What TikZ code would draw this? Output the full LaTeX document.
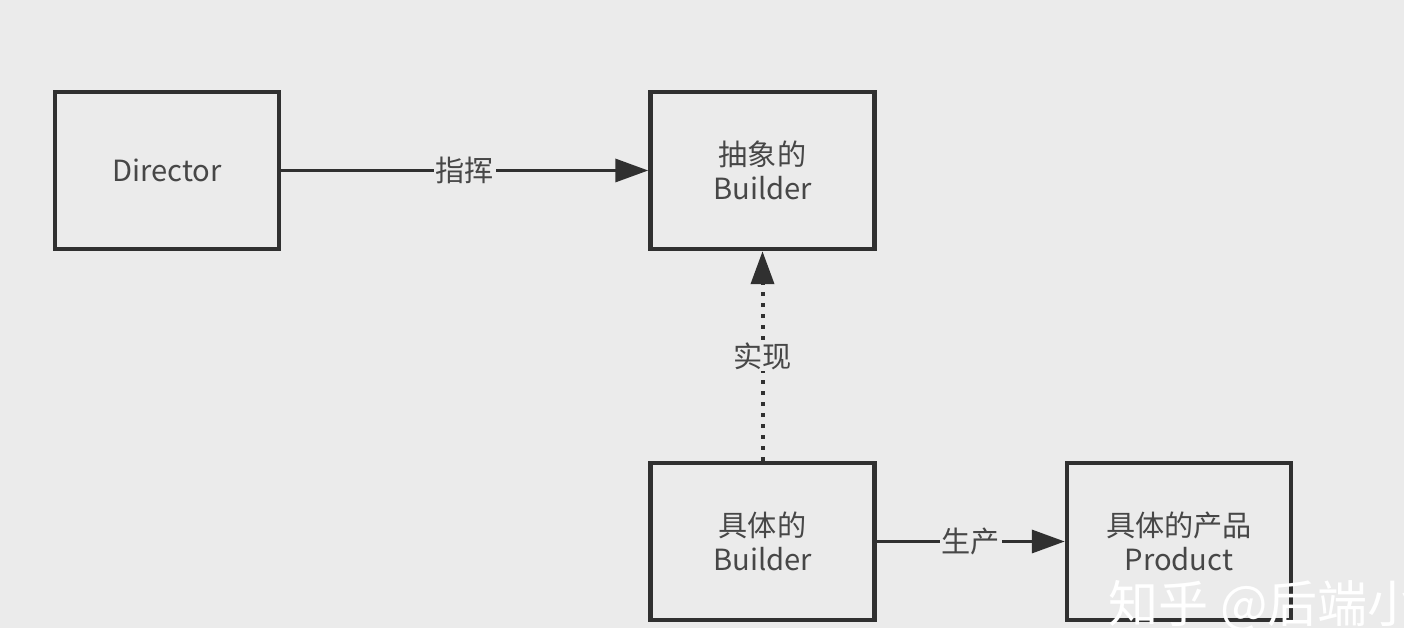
\documentclass[tikz,border=0pt]{standalone}
\usepackage{fontspec}
\setmainfont{Noto Sans CJK SC}
\usepackage{xcolor}
\usetikzlibrary{arrows.meta}
\definecolor{bggray}{HTML}{EBEBEB}
\definecolor{linegray}{HTML}{303030}
\definecolor{textgray}{HTML}{474747}

\begin{document}
\begin{tikzpicture}[
  box/.style={draw=linegray,line width=0.09cm,minimum width=4.48cm,minimum height=3.14cm,align=center,text=textgray,font=\fontsize{16.6}{19}\selectfont},
  pfeil/.style={draw=linegray,line width=0.07cm,-{Triangle[length=0.66cm,width=0.46cm]}},
  beschr/.style={fill=bggray,inner sep=1pt,text=textgray,font=\fontsize{16.6}{19}\selectfont}
]

\fill[bggray] (0,0) rectangle (28.08,12.56);			% Hintergrund
\useasboundingbox (0,0) rectangle (28.08,12.56);

\node[box] (director) at (3.34,9.15) {Director};					% Director
\node[box] (abstrakt) at (15.25,9.15) {抽象的\\Builder};			% abstrakter Builder
\node[box] (konkret) at (15.25,1.73) {具体的\\Builder};			% konkreter Builder
\node[box] (produkt) at (23.58,1.73) {具体的产品\\Product};		% Produkt

\draw[pfeil] (director.east) -- (abstrakt.west) node[midway,beschr] {指挥};
\draw[pfeil,line width=0.08cm,dash pattern=on 0.07cm off 0.15cm] (konkret.north) -- (abstrakt.south) node[midway,beschr] {实现};
\draw[pfeil] (konkret.east) -- (produkt.west) node[midway,beschr] {生产};

\node[anchor=west,text=white,font=\fontsize{28.5}{29}\selectfont] (wasserzeichen) at (22.05,0.44) {知乎 @后端小码};	% Wasserzeichen

\end{tikzpicture}
\end{document}
